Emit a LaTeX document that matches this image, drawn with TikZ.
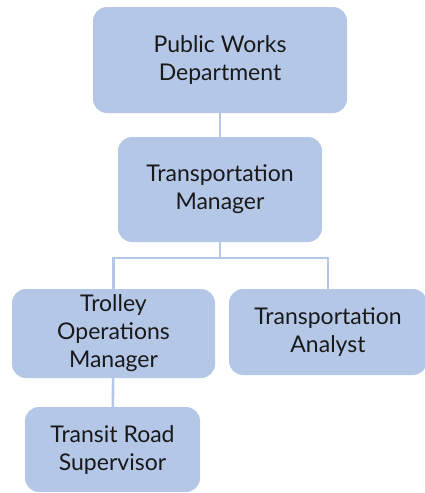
\documentclass[tikz,border=0pt]{standalone}
\usepackage{fontspec}
\setmainfont{Lato}
\definecolor{boxblue}{HTML}{B4C7E7}
\begin{document}
\begin{tikzpicture}[x=1pt, y=-1pt,
  orgbox/.style={fill=boxblue, rounded corners=14pt, align=center, text=black!90,
    font=\fontsize{23}{28}\selectfont, inner sep=0pt},
  link/.style={draw=boxblue, line width=2.6pt}]
\useasboundingbox (0,0) rectangle (425,493);
% boxes
\node[orgbox, minimum width=254pt, minimum height=106pt] (pwd) at (220,60) {Public Works\\Department};
\node[orgbox, minimum width=204pt, minimum height=105pt] (tm) at (220,189.5) {Transportation\\Manager};
\node[orgbox, minimum width=203pt, minimum height=89pt] (tom) at (113.5,333.5) {Trolley\\Operations\\Manager};
\node[orgbox, minimum width=198pt, minimum height=86pt] (ta) at (328,332) {Transportation\\Analyst};
\node[orgbox, minimum width=175pt, minimum height=85pt] (trs) at (112.5,449.5) {Transit Road\\Supervisor};
\coordinate (split) at (220,258);
% links
\draw[link] (pwd) -- (tm);
\draw[link] (tm) -- (split);
\draw[link] (tom.north) |- (split) -| (ta.north);
\draw[link] (tom) -- (trs);
\end{tikzpicture}
\end{document}
